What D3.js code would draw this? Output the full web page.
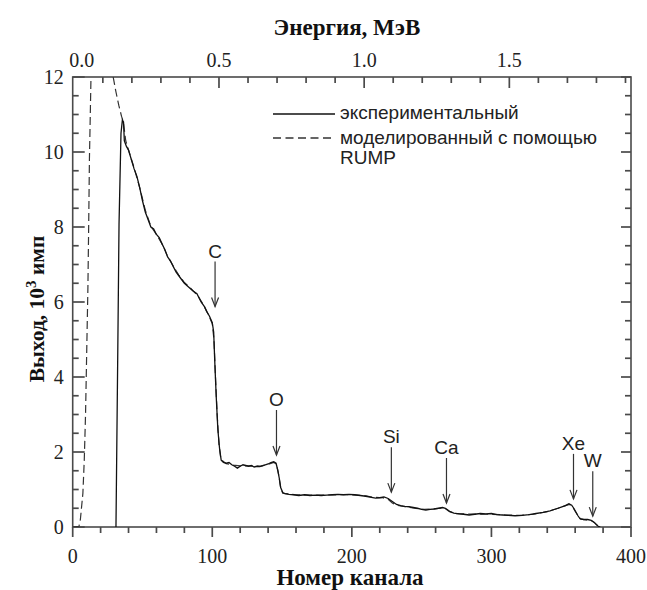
<!DOCTYPE html>
<html>
<head>
<meta charset="utf-8">
<script src="https://cdn.jsdelivr.net/npm/d3@7"></script>
<style>
  body { margin: 0; background: #fff; }
  #chart { width: 647px; height: 590px; }
</style>
</head>
<body>
<div id="chart"></div>
<script>
// channel / yield (10^3 counts)
const expChannel = [31, 32.3, 33.2, 34.6, 35.6, 36.4, 37, 38.5, 40, 42, 44, 46, 48, 50, 52, 54, 56, 58, 60, 62, 64, 66, 68, 70, 72, 74, 76, 78, 80, 83, 86, 89, 92, 94.5, 96, 98, 100, 101, 101.8, 102.8, 104, 105.2, 106.4, 108, 110, 112, 114, 116, 118, 120, 122, 124, 126, 128, 130, 132, 134, 136, 138, 140, 142, 144, 145.7, 147, 148, 149, 150.5, 152, 155, 158, 162, 166, 170, 174, 178, 182, 186, 190, 194, 198, 202, 206, 210, 214, 217, 220, 223, 226, 229, 232, 235, 238, 241, 244, 247, 250, 253, 256, 259, 262, 265, 267, 270, 273, 277, 280, 284, 288, 292, 296, 300, 304, 308, 312, 317, 322, 327, 332, 337, 342, 346, 350, 353, 355.5, 357.5, 359, 360.5, 362, 363.5, 366, 369, 371.5, 373.5, 375, 376.5, 378];
const expYield = [0, 4.7, 8.1, 10.5, 10.85, 10.8, 10.3, 10.15, 10.05, 9.8, 9.55, 9.35, 9.05, 8.7, 8.4, 8.2, 8.0, 7.95, 7.8, 7.72, 7.55, 7.4, 7.2, 7.1, 6.95, 6.8, 6.7, 6.6, 6.5, 6.4, 6.3, 6.22, 6.0, 5.87, 5.75, 5.62, 5.45, 5.2, 4.4, 3.5, 2.6, 2.1, 1.78, 1.72, 1.7, 1.72, 1.66, 1.62, 1.57, 1.62, 1.66, 1.64, 1.62, 1.64, 1.6, 1.62, 1.61, 1.63, 1.66, 1.68, 1.72, 1.74, 1.7, 1.5, 1.3, 1.05, 0.92, 0.89, 0.87, 0.86, 0.84, 0.86, 0.84, 0.85, 0.84, 0.85, 0.86, 0.87, 0.86, 0.87, 0.86, 0.84, 0.82, 0.79, 0.77, 0.78, 0.8, 0.76, 0.68, 0.6, 0.57, 0.55, 0.54, 0.52, 0.5, 0.47, 0.45, 0.47, 0.48, 0.5, 0.52, 0.5, 0.42, 0.37, 0.35, 0.34, 0.32, 0.34, 0.36, 0.35, 0.36, 0.33, 0.32, 0.31, 0.3, 0.31, 0.33, 0.36, 0.39, 0.43, 0.48, 0.53, 0.57, 0.62, 0.58, 0.5, 0.4, 0.3, 0.22, 0.2, 0.2, 0.18, 0.13, 0.07, 0.02, 0];

// RUMP simulation; null = curve leaves the top of the frame
const simChannel = [0, 4.5, 5.5, 7.3, 8.3, 9.2, 10, 10.9, 11.5, 12, 12.6, 13.1, 20, 29, 31, 33, 35, 36.3, 38, 40, 44, 48, 52, 56, 60, 64, 68, 72, 76, 80, 85, 90, 94, 98, 100, 101.2, 102.3, 103.5, 104.8, 106.2, 110, 115, 120, 125, 130, 135, 140, 144, 146, 147.5, 149, 150.5, 155, 160, 170, 180, 190, 200, 210, 216, 222, 226, 229, 232, 238, 245, 252, 258, 264, 267, 270, 274, 280, 290, 300, 310, 320, 330, 340, 348, 353, 356, 358, 360, 362, 364, 368, 372, 374, 376, 378];
const simYield = [0, 0.02, 0.2, 0.9, 1.8, 3.0, 4.6, 6.4, 8.2, 9.85, 11.0, 12.0, null, 12.0, 11.6, 11.25, 10.95, 10.8, 10.3, 10.05, 9.58, 9.05, 8.45, 8.02, 7.8, 7.55, 7.22, 6.96, 6.72, 6.52, 6.35, 6.15, 5.9, 5.6, 5.42, 5.0, 4.0, 3.0, 2.2, 1.8, 1.69, 1.65, 1.63, 1.63, 1.62, 1.63, 1.67, 1.72, 1.68, 1.4, 1.05, 0.9, 0.88, 0.86, 0.85, 0.85, 0.86, 0.86, 0.83, 0.79, 0.78, 0.74, 0.64, 0.58, 0.54, 0.5, 0.47, 0.48, 0.5, 0.49, 0.41, 0.36, 0.35, 0.34, 0.34, 0.32, 0.31, 0.34, 0.41, 0.5, 0.57, 0.6, 0.55, 0.42, 0.3, 0.21, 0.19, 0.16, 0.11, 0.04, 0];

// element markers: channel and yield at the arrow tip
const peakNames = ["C", "O", "Si", "Ca", "Xe", "W"];
const peakChannel = [102, 146, 228.3, 267.8, 358.8, 372.6];
const peakTip = [5.88, 1.92, 0.93, 0.64, 0.75, 0.29];

const channelTicks = [0, 100, 200, 300, 400];
const yieldTicks = [0, 2, 4, 6, 8, 10, 12];
const energyTicks = [0, 0.5, 1.0, 1.5];
const legendLabels = ["экспериментальный", "моделированный с помощью", "RUMP"];

const margin = { top: 77, right: 16, bottom: 63, left: 72.7 };
const W = 647, H = 590;
const width = W - margin.left - margin.right;
const height = H - margin.top - margin.bottom;

const svg = d3.select("#chart").append("svg")
  .attr("width", W)
  .attr("height", H);

const g = svg.append("g")
  .attr("transform", `translate(${margin.left},${margin.top})`);

const x = d3.scaleLinear().domain([0, 400]).range([0, width]);
const y = d3.scaleLinear().domain([0, 12]).range([height, 0]);
// energy axis: 0 MeV near channel 0.8, about 208 channels per MeV
const xE = d3.scaleLinear().domain([-0.0038, 1.919]).range([0, width]);

const axisColor = "#4a4a4a";
const serif = "'Liberation Serif', 'Times New Roman', serif";
const sans = "'Liberation Sans', Arial, sans-serif";

// -----------------------------
// ticks (drawn by hand so the direction/length matches the original)
// -----------------------------
const tickLayer = g.append("g").attr("stroke", axisColor).attr("stroke-width", 1.7);

function hTicks(values, scale, y0, len) {
  tickLayer.append("g").selectAll("line")
    .data(values)
    .join("line")
    .attr("x1", d => scale(d)).attr("x2", d => scale(d))
    .attr("y1", y0).attr("y2", y0 + len);
}
function vTicks(values, scale, x0, len) {
  tickLayer.append("g").selectAll("line")
    .data(values)
    .join("line")
    .attr("y1", d => scale(d)).attr("y2", d => scale(d))
    .attr("x1", x0).attr("x2", x0 + len);
}

const minorY = d3.range(0, 12.01, 0.5).filter(v => v % 2 !== 0);
hTicks(d3.range(20, 400, 20).filter(v => v % 100 !== 0), x, height, 6);
hTicks(channelTicks, x, height, 10);
hTicks(d3.range(0.1, 1.95, 0.1).filter((v, i) => (i + 1) % 5 !== 0), xE, 0, 6);
hTicks(energyTicks.slice(1), xE, 0, 11);
vTicks(minorY, y, 0, 6);
vTicks(yieldTicks, y, 0, 12);
vTicks(minorY, y, width, -6);
vTicks(yieldTicks, y, width, -10);

// tick labels
const labelStyle = sel => sel
  .attr("fill", "#222")
  .style("font-family", serif)
  .style("font-size", "20px");

g.append("g").selectAll("text")
  .data(channelTicks)
  .join("text")
  .attr("x", d => x(d))
  .attr("y", height + 36)
  .attr("text-anchor", "middle")
  .call(labelStyle)
  .text(d3.format("d"));

g.append("g").selectAll("text")
  .data(energyTicks)
  .join("text")
  .attr("x", d => xE(d) + (d === 0 ? 8 : 0))
  .attr("y", -10)
  .attr("text-anchor", "middle")
  .call(labelStyle)
  .text(d3.format(".1f"));

g.append("g").selectAll("text")
  .data(yieldTicks)
  .join("text")
  .attr("x", -9)
  .attr("y", d => y(d))
  .attr("dy", "0.35em")
  .attr("text-anchor", "end")
  .call(labelStyle)
  .text(d3.format("d"));

// frame
g.append("rect")
  .attr("width", width)
  .attr("height", height)
  .attr("fill", "none")
  .attr("stroke", axisColor)
  .attr("stroke-width", 1.6);

// curves
g.append("clipPath").attr("id", "plot-clip")
  .append("rect").attr("width", width).attr("height", height);

const line = d3.line()
  .defined(d => d[1] !== null)
  .x(d => x(d[0]))
  .y(d => y(d[1]));

const simData = simChannel.map((c, i) => [c, simYield[i]]);
const expData = expChannel.map((c, i) => [c, expYield[i]]);

g.append("path")
  .datum(simData)
  .attr("clip-path", "url(#plot-clip)")
  .attr("fill", "none")
  .attr("stroke", "#333")
  .attr("stroke-width", 1.2)
  .attr("stroke-dasharray", "8,4")
  .attr("d", line);

g.append("path")
  .datum(expData)
  .attr("clip-path", "url(#plot-clip)")
  .attr("fill", "none")
  .attr("stroke", "#111")
  .attr("stroke-width", 1.3)
  .attr("d", line);

// element arrows
const arrowLen = 45;
peakNames.forEach((name, i) => {
  const ax = x(peakChannel[i]);
  const tip = y(peakTip[i]);
  const top = tip - arrowLen;
  g.append("line")
    .attr("x1", ax).attr("x2", ax)
    .attr("y1", top).attr("y2", tip)
    .attr("stroke", "#333").attr("stroke-width", 1.2);
  g.append("path")
    .attr("d", `M${ax - 3.5},${tip - 9}L${ax},${tip}L${ax + 3.5},${tip - 9}`)
    .attr("fill", "none")
    .attr("stroke", "#333")
    .attr("stroke-width", 1.2);
  g.append("text")
    .attr("x", ax)
    .attr("y", top - 4)
    .attr("text-anchor", "middle")
    .attr("fill", "#222")
    .style("font-family", sans)
    .style("font-size", "19px")
    .text(name);
});

// legend
const legend = svg.append("g");
legend.append("line")
  .attr("x1", 273).attr("x2", 335).attr("y1", 114).attr("y2", 114)
  .attr("stroke", "#111").attr("stroke-width", 1.3);
legend.append("line")
  .attr("x1", 273).attr("x2", 335).attr("y1", 138).attr("y2", 138)
  .attr("stroke", "#333").attr("stroke-width", 1.3)
  .attr("stroke-dasharray", "8,4.5");
[119, 143.5, 163.5].forEach((ly, i) => {
  legend.append("text")
    .attr("x", 340)
    .attr("y", ly)
    .attr("fill", "#222")
    .style("font-family", sans)
    .style("font-size", "19px")
    .text(legendLabels[i]);
});

// axis titles
svg.append("text")
  .attr("x", 347).attr("y", 35)
  .attr("text-anchor", "middle")
  .style("font-family", serif).style("font-size", "23px").style("font-weight", "bold")
  .attr("fill", "#111")
  .text("Энергия, МэВ");

svg.append("text")
  .attr("x", 350).attr("y", 585)
  .attr("text-anchor", "middle")
  .style("font-family", serif).style("font-size", "23px").style("font-weight", "bold")
  .attr("fill", "#111")
  .text("Номер канала");

const yTitle = svg.append("text")
  .attr("transform", "translate(44,309) rotate(-90)")
  .attr("text-anchor", "middle")
  .style("font-family", serif).style("font-size", "21.5px").style("font-weight", "bold")
  .attr("fill", "#111");
yTitle.append("tspan").text("Выход, 10");
yTitle.append("tspan").attr("dy", -8).style("font-size", "15px").text("3");
yTitle.append("tspan").attr("dy", 8).text(" имп");
</script>
</body>
</html>
